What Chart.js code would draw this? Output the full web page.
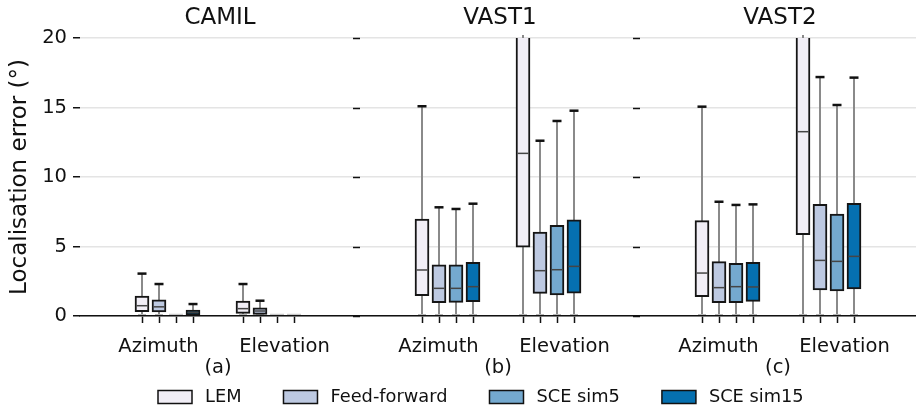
<!DOCTYPE html>
<html>
<head>
<meta charset="utf-8">
<script src="https://cdn.jsdelivr.net/npm/chart.js@4.4.1/dist/chart.umd.min.js"></script>
<style>
  html, body { margin: 0; padding: 0; background: #ffffff; }
  #wrap { width: 916px; height: 406px; }
</style>
</head>
<body>
<div id="wrap"><canvas id="chart" width="916" height="406"></canvas></div>
<script>
// Corpora (one panel each), conditions (one box group each) and methods (one box per group)
const corpora = ['CAMIL', 'VAST1', 'VAST2'];
const panelTags = ['(a)', '(b)', '(c)'];
const conditions = ['Azimuth', 'Elevation'];
const methods = ['LEM', 'Feed-forward', 'SCE sim5', 'SCE sim15'];
const methodColors = ['#f1eef6', '#bdc9e1', '#74a9cf', '#0570b0'];
const yTicks = [0, 5, 10, 15, 20];

// Box statistics in degrees: [lower whisker, Q1, median, Q3, upper whisker]
// order: CAMIL-Az, CAMIL-El, VAST1-Az, VAST1-El, VAST2-Az, VAST2-El
const lemStats = [
  [0, 0.31, 0.74, 1.44, 3.05],
  [0, 0.19, 0.53, 1.08, 2.30],
  [0, 1.46, 3.31, 6.98, 15.09],
  [0, 4.96, 11.70, 24.5, 36.0],
  [0, 1.39, 3.09, 6.86, 15.06],
  [0, 5.85, 13.26, 25.0, 37.0]
];
const feedForwardStats = [
  [0, 0.29, 0.66, 1.16, 2.30],
  [0, 0.12, 0.36, 0.58, 1.10],
  [0, 0.96, 1.99, 3.69, 7.82],
  [0, 1.63, 3.26, 6.04, 12.61],
  [0, 0.96, 2.04, 3.91, 8.22],
  [0, 1.87, 4.00, 8.03, 17.19]
];
const sceSim5Stats = [
  [0, 0, 0, 0, 0],
  [0, 0, 0, 0, 0],
  [0, 0.98, 1.99, 3.69, 7.70],
  [0, 1.51, 3.33, 6.52, 14.03],
  [0, 0.96, 2.11, 3.79, 7.99],
  [0, 1.80, 3.93, 7.34, 15.18]
];
const sceSim15Stats = [
  [0, 0.07, 0.26, 0.42, 0.86],
  [0, 0, 0, 0, 0],
  [0, 1.03, 2.11, 3.86, 8.08],
  [0, 1.65, 3.57, 6.91, 14.77],
  [0, 1.05, 2.09, 3.86, 8.03],
  [0, 1.94, 4.29, 8.11, 17.15]
];
const methodStats = [lemStats, feedForwardStats, sceSim5Stats, sceSim15Stats];

// Horizontal layout in x-axis units: each panel spans 2.8 units
const PANEL_SPAN = 2.8;
const GROUP_OFFSET = 0.875;
const GROUP_STEP = 1.01;
const BOX_STEP = 0.17;
const LABEL_OFFSETS = [0.785, 2.045];

function boxX(boxIndex, methodIndex) {
  const panel = Math.floor(boxIndex / 2);
  const cond = boxIndex % 2;
  return panel * PANEL_SPAN + GROUP_OFFSET + cond * GROUP_STEP + (methodIndex - 1.5) * BOX_STEP;
}

const boxPositions = [];
methodStats.forEach((stats, m) => stats.forEach((s, b) => boxPositions.push(boxX(b, m))));
boxPositions.sort((a, b) => a - b);

const datasets = methods.map((name, m) => ({
  label: name,
  data: methodStats[m].map((s, b) => ({
    x: boxX(b, m), y: [s[1], s[3]], lo: s[0], med: s[2], hi: s[4]
  })),
  backgroundColor: methodColors[m],
  borderColor: '#151515',
  borderWidth: 2,
  borderSkipped: false,
  barThickness: 14,
  grouped: false,
  clip: 0
}));

const FONT = '"DejaVu Sans", "Liberation Sans", sans-serif';
Chart.defaults.font.family = FONT;

// Whiskers, caps and medians drawn around the floating bars
const boxPlotParts = {
  id: 'boxPlotParts',
  beforeDatasetsDraw(chart) {
    const { ctx, chartArea: a, scales: { y } } = chart;
    ctx.save();
    ctx.beginPath();
    ctx.rect(a.left, a.top - 3, a.right - a.left, a.bottom - a.top + 3);
    ctx.clip();
    chart.data.datasets.forEach((ds, i) => {
      const meta = chart.getDatasetMeta(i);
      meta.data.forEach((bar, j) => {
        const p = ds.data[j];
        if (!(p.hi > p.lo)) return;
        const x = bar.x;
        const yl = y.getPixelForValue(p.lo);
        const yh = y.getPixelForValue(Math.min(p.hi, 30));
        ctx.strokeStyle = '#8a8a8a';
        ctx.lineWidth = 2;
        ctx.beginPath();
        ctx.moveTo(x, yl);
        ctx.lineTo(x, yh);
        ctx.stroke();
        ctx.strokeStyle = '#b5b5b5';
        ctx.beginPath();
        ctx.moveTo(x - 4, yl - 1);
        ctx.lineTo(x + 4, yl - 1);
        ctx.stroke();
        if (p.hi <= y.max) {
          ctx.strokeStyle = '#111111';
          ctx.lineWidth = 2.5;
          ctx.beginPath();
          ctx.moveTo(x - 4.5, yh);
          ctx.lineTo(x + 4.5, yh);
          ctx.stroke();
        }
      });
    });
    ctx.restore();
  },
  afterDatasetsDraw(chart) {
    const { ctx, chartArea: a, scales: { y } } = chart;
    ctx.save();
    ctx.beginPath();
    ctx.rect(a.left, a.top, a.right - a.left, a.bottom - a.top);
    ctx.clip();
    chart.data.datasets.forEach((ds, i) => {
      const meta = chart.getDatasetMeta(i);
      meta.data.forEach((bar, j) => {
        const p = ds.data[j];
        const flat = p.hi === p.lo;
        const ym = y.getPixelForValue(p.med) - (flat ? 1.5 : 0);
        const half = bar.width / 2 - (flat ? 0 : 1.5);
        ctx.strokeStyle = flat ? '#c8c8c8' : '#454545';
        ctx.lineWidth = 1.5;
        ctx.beginPath();
        ctx.moveTo(bar.x - half, ym);
        ctx.lineTo(bar.x + half, ym);
        ctx.stroke();
      });
    });
    ctx.restore();
  }
};

// Titles, group labels, panel tags, axis title, panel tick marks and legend
const annotations = {
  id: 'annotations',
  afterDraw(chart) {
    const { ctx, chartArea: a, scales: { x, y } } = chart;
    ctx.save();
    ctx.fillStyle = '#111111';
    ctx.textBaseline = 'middle';
    ctx.textAlign = 'center';

    corpora.forEach((name, p) => {
      ctx.font = '23px ' + FONT;
      ctx.fillText(name, x.getPixelForValue(p * PANEL_SPAN + 1.4), 18);
      ctx.font = '19.5px ' + FONT;
      conditions.forEach((c, k) => {
        ctx.fillText(c, x.getPixelForValue(p * PANEL_SPAN + LABEL_OFFSETS[k]), 347);
      });
      ctx.fillText(panelTags[p], x.getPixelForValue(p * PANEL_SPAN + 1.38), 368);
    });

    // y tick marks at the left edge of the second and third panels
    ctx.strokeStyle = '#111111';
    ctx.lineWidth = 1.5;
    [1, 2].forEach(p => {
      const px = Math.round(x.getPixelForValue(p * PANEL_SPAN));
      yTicks.forEach(v => {
        const py = Math.round(y.getPixelForValue(v)) + 0.5;
        ctx.beginPath();
        ctx.moveTo(px - 7, py);
        ctx.lineTo(px, py);
        ctx.stroke();
      });
    });

    // y-axis title
    ctx.save();
    ctx.translate(20, (a.top + a.bottom) / 2);
    ctx.rotate(-Math.PI / 2);
    ctx.font = '23px ' + FONT;
    ctx.fillText('Localisation error (°)', 0, 0);
    ctx.restore();

    // legend
    ctx.font = '17.8px ' + FONT;
    ctx.textAlign = 'left';
    let lx = 158;
    const ly = 397;
    chart.data.datasets.forEach(ds => {
      ctx.fillStyle = ds.backgroundColor;
      ctx.fillRect(lx, ly - 6.5, 34, 13);
      ctx.strokeStyle = '#111111';
      ctx.lineWidth = 1.5;
      ctx.strokeRect(lx, ly - 6.5, 34, 13);
      ctx.fillStyle = '#111111';
      const tx = lx + 34 + 13;
      ctx.fillText(ds.label, tx, ly);
      lx = tx + ctx.measureText(ds.label).width + 42;
    });
    ctx.restore();
  }
};

new Chart(document.getElementById('chart'), {
  type: 'bar',
  data: { datasets },
  options: {
    responsive: false,
    animation: false,
    events: [],
    layout: { padding: { top: 38, left: 0, right: 0, bottom: 0 } },
    plugins: { legend: { display: false }, tooltip: { enabled: false } },
    scales: {
      x: {
        type: 'linear',
        offset: false,
        min: 0,
        max: 8.36,
        afterBuildTicks: s => { s.ticks = boxPositions.map(v => ({ value: v })); },
        afterFit: s => { s.height = 90; },
        ticks: { display: false },
        grid: {
          offset: false,
          drawOnChartArea: false, drawTicks: true, tickLength: 7,
          color: '#111111', tickColor: '#111111', tickWidth: 1.5
        },
        border: { display: true, color: '#111111', width: 1.5, z: 1 }
      },
      y: {
        min: 0,
        max: 20,
        afterBuildTicks: s => { s.ticks = yTicks.map(v => ({ value: v })); },
        afterFit: s => { s.width = 80; },
        border: { display: false },
        grid: {
          color: '#e4e4e4', lineWidth: 1.5, drawTicks: true, tickLength: 7,
          tickColor: '#111111', tickWidth: 1.5
        },
        ticks: { color: '#111111', font: { size: 19.5 }, padding: 6 }
      }
    }
  },
  plugins: [boxPlotParts, annotations]
});
</script>
</body>
</html>
